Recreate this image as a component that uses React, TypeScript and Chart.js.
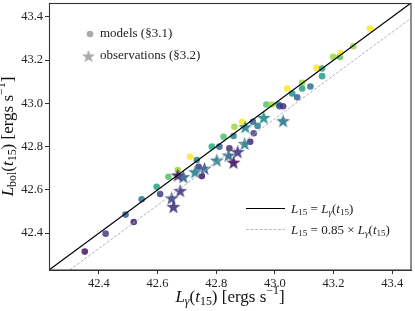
import React, { useEffect, useRef } from "react";
import { Chart, registerables } from "chart.js";

Chart.register(...registerables);

// ---- data (log10 luminosities, ergs s^-1) ----
const modelLgamma = [
  42.352, 42.423, 42.491, 42.519, 42.546, 42.597, 42.609, 42.637, 42.669, 42.711,
  42.734, 42.740, 42.751, 42.785, 42.811, 42.825, 42.845, 42.859, 42.862, 42.888,
  42.925, 42.941, 42.928, 42.916, 42.971, 42.990, 43.013, 43.016, 43.028, 43.042,
  43.059, 43.076, 43.093, 43.093, 43.121, 43.142, 43.161, 43.161, 43.199, 43.222,
  43.224, 43.267, 43.324,
];
const modelLbol = [
  42.315, 42.398, 42.486, 42.452, 42.557, 42.615, 42.581, 42.661, 42.692, 42.753,
  42.738, 42.707, 42.664, 42.800, 42.800, 42.846, 42.792, 42.849, 42.892, 42.915,
  42.915, 42.896, 42.862, 42.823, 42.995, 42.995, 42.995, 42.987, 42.987, 43.069,
  43.046, 43.028, 43.095, 43.069, 43.078, 43.164, 43.161, 43.126, 43.215, 43.215,
  43.233, 43.264, 43.346,
];
const modelColorValue = [
  0.05, 0.18, 0.30, 0.08, 0.40, 0.58, 0.18, 0.72, 0.85, 1.0,
  0.42, 0.18, 0.05, 0.62, 0.30, 0.72, 0.12, 0.45, 0.85, 1.0,
  0.30, 0.42, 0.18, 0.10, 0.72, 0.87, 0.50, 0.22, 0.15, 1.0,
  0.50, 0.32, 0.85, 0.58, 0.38, 1.0, 0.62, 0.55, 0.85, 0.72,
  1.0, 0.85, 1.0,
];

const obsLgamma = [
  42.648, 42.654, 42.677, 42.669, 42.688, 42.728, 42.760, 42.802, 42.842, 42.873,
  42.859, 42.897, 42.899, 42.962, 43.028,
];
const obsLbol = [
  42.563, 42.523, 42.597, 42.669, 42.661, 42.684, 42.700, 42.738, 42.761, 42.777,
  42.728, 42.815, 42.892, 42.935, 42.920,
];
const obsColorValue = [
  0.22, 0.15, 0.17, 0.08, 0.30, 0.42, 0.30, 0.42, 0.35, 0.15,
  0.05, 0.42, 0.45, 0.48, 0.38,
];

const xTicks = [42.4, 42.6, 42.8, 43.0, 43.2, 43.4];
const yTicks = [42.4, 42.6, 42.8, 43.0, 43.2, 43.4];
const axisLimits = [42.23, 43.464];
const scaleFactor = 0.85;

const viridisStops = [
  "#440154", "#482475", "#414487", "#355f8d", "#2a788e", "#21918c",
  "#22a884", "#44bf70", "#7ad151", "#bddf26", "#fde725",
];

function hexToRgb(h: string) {
  return [parseInt(h.slice(1, 3), 16), parseInt(h.slice(3, 5), 16), parseInt(h.slice(5, 7), 16)];
}
function viridis(v: number, alpha: number) {
  const t = Math.max(0, Math.min(1, v)) * (viridisStops.length - 1);
  const i = Math.min(Math.floor(t), viridisStops.length - 2);
  const f = t - i;
  const a = hexToRgb(viridisStops[i]);
  const b = hexToRgb(viridisStops[i + 1]);
  const c = a.map((x, k) => Math.round(x + (b[k] - x) * f));
  return `rgba(${c[0]},${c[1]},${c[2]},${alpha})`;
}

function makeStar(color: string, r: number) {
  const c = document.createElement("canvas");
  const s = Math.ceil(2 * r + 2);
  c.width = s;
  c.height = s;
  const g = c.getContext("2d")!;
  g.fillStyle = color;
  g.beginPath();
  for (let i = 0; i < 10; i++) {
    const rad = i % 2 === 0 ? r : r * 0.4;
    const a = -Math.PI / 2 + (i * Math.PI) / 5;
    const px = s / 2 + rad * Math.cos(a);
    const py = s / 2 + rad * Math.sin(a) + r * 0.1;
    if (i === 0) g.moveTo(px, py);
    else g.lineTo(px, py);
  }
  g.closePath();
  g.fill();
  return c;
}

type Seg = { t: string; it?: boolean; sub?: boolean; sup?: boolean };
const FAM = '"Liberation Serif", "DejaVu Serif", serif';

function mathWidth(ctx: CanvasRenderingContext2D, segs: Seg[], size: number) {
  let w = 0;
  for (const s of segs) {
    ctx.font = `${s.it ? "italic " : ""}${s.sub || s.sup ? size * 0.7 : size}px ${FAM}`;
    w += ctx.measureText(s.t).width;
  }
  return w;
}
function drawMath(
  ctx: CanvasRenderingContext2D,
  segs: Seg[],
  x: number,
  y: number,
  size: number,
  align: "left" | "center"
) {
  const w = mathWidth(ctx, segs, size);
  let cx = align === "center" ? x - w / 2 : x;
  ctx.textAlign = "left";
  ctx.textBaseline = "alphabetic";
  for (const s of segs) {
    ctx.font = `${s.it ? "italic " : ""}${s.sub || s.sup ? size * 0.7 : size}px ${FAM}`;
    const dy = s.sub ? size * 0.22 : s.sup ? -size * 0.42 : 0;
    ctx.fillText(s.t, cx, y + dy);
    cx += ctx.measureText(s.t).width;
  }
}

const xLabel: Seg[] = [
  { t: "L", it: true }, { t: "γ", it: true, sub: true }, { t: "(" }, { t: "t", it: true },
  { t: "15", sub: true }, { t: ") [ergs s" }, { t: "−1", sup: true }, { t: "]" },
];
const yLabel: Seg[] = [
  { t: "L", it: true }, { t: "bol", sub: true }, { t: "(" }, { t: "t", it: true },
  { t: "15", sub: true }, { t: ") [ergs s" }, { t: "−1", sup: true }, { t: "]" },
];
const legendLine1: Seg[] = [
  { t: "L", it: true }, { t: "15", sub: true }, { t: " = " }, { t: "L", it: true },
  { t: "γ", it: true, sub: true }, { t: "(" }, { t: "t", it: true }, { t: "15", sub: true }, { t: ")" },
];
const legendLine2: Seg[] = [
  { t: "L", it: true }, { t: "15", sub: true }, { t: " = 0.85 × " }, { t: "L", it: true },
  { t: "γ", it: true, sub: true }, { t: "(" }, { t: "t", it: true }, { t: "15", sub: true }, { t: ")" },
];

const decorPlugin = {
  id: "decor",
  afterDraw(chart: any) {
    const ctx: CanvasRenderingContext2D = chart.ctx;
    const a = chart.chartArea;
    ctx.save();
    // frame
    ctx.strokeStyle = "#333";
    ctx.lineWidth = 1.1;
    ctx.strokeRect(Math.round(a.left) + 0.5, Math.round(a.top) + 0.5, Math.round(a.right - a.left) - 0.5, Math.round(a.bottom - a.top) - 0.5);

    ctx.fillStyle = "#111";
    // x label
    drawMath(ctx, xLabel, (a.left + a.right) / 2, 301.5, 17, "center");
    // y label
    ctx.save();
    ctx.translate(12.5, (a.top + a.bottom) / 2);
    ctx.rotate(-Math.PI / 2);
    drawMath(ctx, yLabel, 0, 0, 17, "center");
    ctx.restore();

    // top-left legend
    ctx.fillStyle = "rgba(170,170,170,1)";
    ctx.beginPath();
    ctx.arc(90, 34, 3.3, 0, Math.PI * 2);
    ctx.fill();
    const star = makeStar("rgba(170,170,170,1)", 7);
    ctx.drawImage(star, 88.5 - star.width / 2, 56 - star.height / 2);
    ctx.fillStyle = "#222";
    ctx.font = `13px ${FAM}`;
    ctx.textAlign = "left";
    ctx.textBaseline = "middle";
    ctx.fillText("models (§3.1)", 100, 34);
    ctx.fillText("observations (§3.2)", 100, 56);

    // bottom-right legend
    ctx.strokeStyle = "#000";
    ctx.lineWidth = 1.2;
    ctx.beginPath();
    ctx.moveTo(246, 208.5);
    ctx.lineTo(285, 208.5);
    ctx.stroke();
    ctx.strokeStyle = "#bbbbbb";
    ctx.lineWidth = 1;
    ctx.setLineDash([3, 1.6]);
    ctx.beginPath();
    ctx.moveTo(246, 229.5);
    ctx.lineTo(285, 229.5);
    ctx.stroke();
    ctx.setLineDash([]);
    ctx.fillStyle = "#222";
    drawMath(ctx, legendLine1, 291, 212.5, 13, "left");
    drawMath(ctx, legendLine2, 291, 233.5, 13, "left");
    ctx.restore();
  },
};

export default function App() {
  const ref = useRef<HTMLCanvasElement>(null);
  useEffect(() => {
    const canvas = ref.current!;
    const starImgs = obsColorValue.map((v) => makeStar(viridis(v, 0.9), 7.3));
    const lo = axisLimits[0];
    const hi = axisLimits[1];
    const off = Math.log10(scaleFactor);
    const chart = new Chart(canvas, {
      type: "scatter",
      data: {
        datasets: [
          {
            type: "line",
            data: [{ x: lo, y: lo }, { x: hi, y: hi }],
            borderColor: "#000",
            borderWidth: 1.2,
            pointRadius: 0,
          } as any,
          {
            type: "line",
            data: [{ x: lo - off, y: lo }, { x: hi, y: hi + off }],
            borderColor: "#b4b4b4",
            borderWidth: 1,
            borderDash: [3, 1.6],
            pointRadius: 0,
          } as any,
          {
            data: obsLgamma.map((x, i) => ({ x, y: obsLbol[i] })),
            pointStyle: (c: any) => starImgs[c.dataIndex],
            pointRadius: 7.3,
          } as any,
          {
            data: modelLgamma.map((x, i) => ({ x, y: modelLbol[i] })),
            backgroundColor: modelColorValue.map((v) => viridis(v, 0.85)),
            borderWidth: 0,
            pointRadius: 3.3,
          },
        ],
      },
      options: {
        animation: false,
        responsive: false,
        devicePixelRatio: 1,
        layout: { autoPadding: false, padding: { left: 0, top: 3, right: 4, bottom: 0 } },
        plugins: { legend: { display: false }, tooltip: { enabled: false } },
        scales: {
          x: {
            type: "linear",
            min: lo,
            max: hi,
            afterBuildTicks: (s: any) => {
              s.ticks = xTicks.map((v) => ({ value: v }));
            },
            afterFit: (s: any) => {
              s.height = 41;
              s.paddingLeft = 0;
              s.paddingRight = 0;
              s.paddingTop = 0;
              s.paddingBottom = 0;
            },
            ticks: {
              callback: (v: any) => Number(v).toFixed(1),
              font: { family: FAM, size: 12.5 },
              color: "#222",
              padding: 2,
              maxRotation: 0,
              autoSkip: false,
            },
            grid: { drawOnChartArea: false, tickLength: 4, color: "#333" },
            border: { display: true, color: "#333" },
          },
          y: {
            type: "linear",
            min: lo,
            max: hi,
            afterBuildTicks: (s: any) => {
              s.ticks = yTicks.map((v) => ({ value: v }));
            },
            afterFit: (s: any) => {
              s.width = 49;
              s.paddingLeft = 0;
              s.paddingRight = 0;
              s.paddingTop = 0;
              s.paddingBottom = 0;
            },
            ticks: {
              callback: (v: any) => Number(v).toFixed(1),
              font: { family: FAM, size: 12.5 },
              color: "#222",
              padding: 2,
              autoSkip: false,
            },
            grid: { drawOnChartArea: false, tickLength: 4, color: "#333" },
            border: { display: true, color: "#333" },
          },
        },
      } as any,
      plugins: [decorPlugin],
    });
    return () => chart.destroy();
  }, []);
  return (
    <div style={{ position: "fixed", left: 0, top: 0, width: 415, height: 311, background: "#fff" }}>
      <canvas ref={ref} width={415} height={311} style={{ width: 415, height: 311, display: "block" }} />
    </div>
  );
}
